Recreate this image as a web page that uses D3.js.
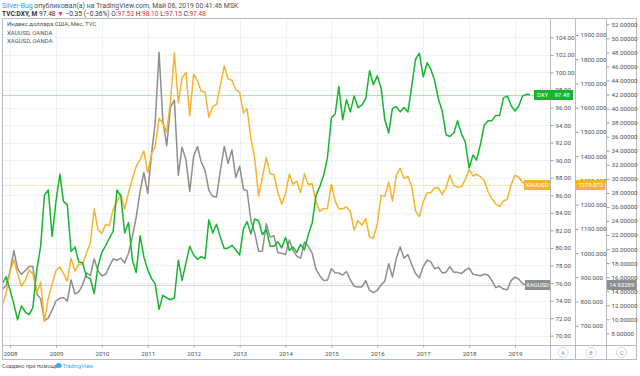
<!DOCTYPE html>
<html>
<head>
<meta charset="utf-8">
<script src="https://cdn.jsdelivr.net/npm/d3@7"></script>
<style>
  body { margin: 0; background: #fff; }
  svg { display: block; font-family: Roboto, "Liberation Sans", sans-serif; }
</style>
</head>
<body>
<svg id="chart" width="640" height="376"></svg>
<script>
// monthly closes, Nov 2007 .. May 2019
const dxy = [
  75.95, 76.70,
  75.20, 73.60, 71.80, 73.40, 72.70, 72.40, 73.20, 77.50, 80.20, 86.00, 86.60, 81.30,
  85.30, 88.40, 85.30, 84.90, 79.60, 80.10, 78.40, 78.30, 76.70, 76.50, 74.80, 77.90,
  79.50, 80.30, 81.10, 81.90, 86.60, 85.90, 81.70, 82.90, 78.60, 77.20, 81.40, 79.00,
  77.50, 76.50, 75.90, 73.00, 74.60, 74.30, 74.10, 74.30, 78.60, 76.30, 78.30, 80.20,
  79.20, 78.70, 79.00, 78.80, 83.20, 81.70, 82.70, 81.20, 79.90, 80.00, 80.30, 79.80,
  79.20, 82.20, 83.00, 81.60, 83.30, 83.10, 81.50, 82.10, 80.20, 80.20, 80.70, 80.00,
  81.20, 79.70, 80.10, 79.50, 80.40, 79.80, 81.50, 82.80, 86.00, 87.00, 88.30, 90.30,
  94.80, 95.30, 98.40, 94.60, 96.90, 95.50, 97.30, 96.00, 96.30, 97.00, 100.20, 98.60,
  99.60, 98.20, 94.60, 93.10, 95.90, 96.10, 95.50, 96.00, 95.50, 98.40, 101.50, 102.20,
  99.50, 101.10, 100.40, 99.10, 97.00, 95.60, 92.90, 92.70, 93.10, 94.50, 93.00, 92.10,
  89.10, 90.60, 90.00, 91.80, 94.00, 94.50, 94.50, 95.10, 95.10, 97.10, 97.30, 96.20,
  95.60, 96.20, 97.30, 97.50, 97.48
];
const gold = [
  783, 834,
  923, 972, 916, 864, 886, 930, 913, 833, 880, 718, 815, 870,
  928, 942, 916, 883, 978, 926, 954, 955, 1001, 1039, 1182, 1096,
  1081, 1118, 1113, 1180, 1213, 1244, 1181, 1248, 1307, 1357, 1385, 1421,
  1332, 1410, 1439, 1556, 1536, 1500, 1628, 1826, 1620, 1722, 1746, 1566,
  1738, 1710, 1669, 1664, 1561, 1604, 1614, 1692, 1772, 1719, 1713, 1675,
  1663, 1578, 1596, 1472, 1392, 1234, 1312, 1395, 1327, 1323, 1250, 1202,
  1244, 1326, 1284, 1296, 1250, 1327, 1282, 1287, 1210, 1172, 1183, 1184,
  1283, 1213, 1183, 1183, 1190, 1172, 1095, 1134, 1115, 1142, 1065, 1061,
  1118, 1238, 1234, 1293, 1215, 1322, 1350, 1309, 1316, 1276, 1173, 1151,
  1211, 1249, 1249, 1268, 1269, 1242, 1269, 1322, 1280, 1271, 1275, 1303,
  1345, 1318, 1325, 1315, 1299, 1253, 1224, 1202, 1192, 1215, 1222, 1282,
  1321, 1313, 1292, 1284, 1279.072
];
const silver = [
  14.30, 14.80,
  16.80, 19.80, 17.20, 16.40, 16.90, 17.50, 17.50, 13.60, 12.90, 9.80, 10.20, 11.30,
  12.60, 13.00, 13.10, 12.60, 15.60, 13.60, 13.90, 14.90, 16.60, 16.20, 18.60, 16.90,
  16.20, 16.40, 17.50, 18.60, 18.40, 18.70, 18.00, 19.40, 21.80, 24.50, 28.20, 30.90,
  27.90, 33.70, 37.90, 48.00, 38.40, 34.70, 40.20, 41.20, 30.50, 34.50, 32.70, 28.20,
  33.20, 34.60, 32.40, 31.20, 28.40, 27.50, 27.40, 31.20, 34.60, 32.20, 34.10, 30.20,
  31.80, 28.50, 28.30, 24.10, 22.30, 19.70, 19.70, 23.60, 21.70, 21.90, 19.50, 19.40,
  19.20, 21.30, 19.80, 19.00, 18.70, 21.00, 20.40, 19.40, 17.10, 16.20, 15.50, 15.60,
  17.20, 16.60, 16.60, 16.30, 16.80, 15.60, 14.70, 14.60, 14.60, 15.50, 14.10, 13.80,
  14.10, 14.90, 15.40, 17.90, 16.00, 18.70, 20.30, 18.70, 19.20, 17.80, 16.50, 15.90,
  17.50, 18.40, 18.20, 17.20, 17.40, 16.60, 16.70, 17.50, 16.70, 16.70, 16.50, 17.00,
  17.30, 16.40, 16.30, 16.20, 16.40, 16.30, 15.50, 14.50, 14.70, 14.30, 14.20, 15.50,
  16.00, 15.70, 15.10, 14.90, 14.93289
];
const months = d3.timeMonth.range(new Date(2007, 10, 1), new Date(2019, 5, 1));
const years = d3.range(2008, 2020);
const dxyTicks = d3.range(70, 105, 2);
const goldTicks = d3.range(700, 1901, 100);
const silverTicks = d3.range(8, 53, 2);
const legendLines = ["Индекс доллара США, Мес, TVC", "XAUUSD, OANDA", "XAGUSD, OANDA"];

const svg = d3.select("#chart");
const W = 640, H = 376;
const frameLeft = 2.5, frameTop = 18.5, plotBottom = 345.5, frameBottom = 359.5;
const axA = 550.5, axB = 575.5, axC = 606.5, frameRight = 636.5;

const green = "#14b62e", orange = "#f6b42a", grey = "#8e8e8e";
const textCol = "#4f4f4f", lineCol = "#b8bcc4", gridCol = "#edf1f6";

const x = d3.scaleTime()
  .domain([new Date(2008, 0, 1), new Date(2019, 0, 1)])
  .range([10, 515]);
const yA = d3.scaleLinear().domain([70, 104]).range([335.7, 37.3]);
const yB = d3.scaleLinear().domain([700, 1900]).range([325.7, 35]);
const yC = d3.scaleLinear().domain([8, 52]).range([333.3, 24.3]);

svg.append("rect").attr("width", W).attr("height", H).attr("fill", "#fff");

// clip for the plot
svg.append("defs").append("clipPath").attr("id", "plotClip")
  .append("rect")
  .attr("x", frameLeft + 0.5).attr("y", frameTop + 0.5)
  .attr("width", axA - frameLeft - 1).attr("height", plotBottom - frameTop - 1);

// grid
const grid = svg.append("g").attr("clip-path", "url(#plotClip)");
grid.selectAll("line.hg").data(dxyTicks).join("line")
  .attr("class", "hg")
  .attr("x1", frameLeft).attr("x2", axA)
  .attr("y1", d => Math.round(yA(d)) + 0.5).attr("y2", d => Math.round(yA(d)) + 0.5)
  .attr("stroke", gridCol);
grid.selectAll("line.vg").data(years).join("line")
  .attr("class", "vg")
  .attr("x1", d => Math.round(x(new Date(d, 0, 1))) + 0.5)
  .attr("x2", d => Math.round(x(new Date(d, 0, 1))) + 0.5)
  .attr("y1", frameTop).attr("y2", plotBottom)
  .attr("stroke", gridCol);

// last-price lines, series colour at low opacity
const series = [
  { values: dxy, y: yA, color: green },
  { values: gold, y: yB, color: orange },
  { values: silver, y: yC, color: grey }
];
series.forEach(s => {
  const yy = Math.round(s.y(s.values[s.values.length - 1])) + 0.5;
  grid.append("line")
    .attr("class", "last")
    .attr("x1", frameLeft).attr("x2", axA)
    .attr("y1", yy).attr("y2", yy)
    .attr("stroke", s.color)
    .attr("stroke-opacity", 0.35);
});

// series lines, silver under gold under dxy
[series[2], series[1], series[0]].forEach(s => {
  const line = d3.line()
    .x((d, i) => x(months[i]))
    .y(d => s.y(d));
  grid.append("path")
    .datum(s.values)
    .attr("fill", "none")
    .attr("stroke", s.color)
    .attr("stroke-width", 1.5)
    .attr("stroke-linejoin", "round")
    .attr("d", line);
});

// frame
const frame = svg.append("g").attr("stroke", lineCol).attr("fill", "none");
frame.append("rect").attr("x", frameLeft).attr("y", frameTop)
  .attr("width", frameRight - frameLeft).attr("height", frameBottom - frameTop);
[axA, axB, axC].forEach(v => {
  frame.append("line").attr("x1", v).attr("x2", v).attr("y1", frameTop).attr("y2", frameBottom);
});
frame.append("line").attr("x1", frameLeft).attr("x2", frameRight)
  .attr("y1", plotBottom).attr("y2", plotBottom);

// price axes
function priceAxis(scale, ticks, fmt, pos) {
  const g = svg.append("g")
    .attr("transform", `translate(${pos},0)`)
    .call(d3.axisRight(scale).tickValues(ticks).tickFormat(d3.format(fmt))
      .tickSize(3).tickPadding(2));
  g.select(".domain").remove();
  g.selectAll("line").attr("stroke", "#9a9ea6");
  g.selectAll("text").attr("fill", textCol)
    .style("font-size", "6.2px").style("font-family", "Roboto, sans-serif");
  return g;
}
priceAxis(yA, dxyTicks, ".2f", axA);
priceAxis(yB, goldTicks, ".3f", axB);
priceAxis(yC, silverTicks, ".5f", axC);

// time axis
const xa = svg.append("g")
  .attr("transform", `translate(0,${plotBottom})`)
  .call(d3.axisBottom(x).tickValues(years.map(d => new Date(d, 0, 1)))
    .tickFormat(d3.timeFormat("%Y")).tickSize(2).tickPadding(4));
xa.select(".domain").remove();
xa.selectAll("line").attr("stroke", "#9a9ea6");
xa.selectAll("text").attr("fill", textCol)
  .style("font-size", "6.2px").style("font-family", "Roboto, sans-serif");

// axis letters
[["A", (axA + axB) / 2], ["B", (axB + axC) / 2], ["C", (axC + frameRight) / 2]].forEach(([t, cx]) => {
  svg.append("circle").attr("cx", cx).attr("cy", 352.5).attr("r", 5)
    .attr("fill", "#fff").attr("stroke", "#d6d9de");
  svg.append("text").attr("x", cx).attr("y", 354.6).attr("text-anchor", "middle")
    .attr("fill", "#8a8e96").style("font-size", "5.5px").text(t);
});

// price tags
function tag(x0, w, yv, color, label) {
  const yy = Math.round(yv);
  svg.append("rect").attr("x", x0).attr("y", yy - 5).attr("width", w).attr("height", 10)
    .attr("fill", color);
  svg.append("text").attr("x", x0 + w / 2).attr("y", yy + 2.2).attr("text-anchor", "middle")
    .attr("fill", "#fff").style("font-size", "6px").text(label);
}
const lastD = dxy[dxy.length - 1], lastG = gold[gold.length - 1], lastS = silver[silver.length - 1];
tag(534, 17, yA(lastD), green, "DXY");
tag(551, 22, yA(lastD), green, d3.format(".2f")(lastD));
tag(524, 26, yB(lastG), orange, "XAUUSD");
tag(576, 29.5, yB(lastG), orange, d3.format(".3f")(lastG));
tag(525, 25, yC(lastS), grey, "XAGUSD");
tag(607, 29.5, yC(lastS), grey, d3.format(".5f")(lastS));

// legend
svg.selectAll("text.leg").data(legendLines).join("text")
  .attr("class", "leg")
  .attr("x", 7).attr("y", (d, i) => 26.3 + i * 8.3)
  .attr("fill", textCol).style("font-size", "6px")
  .text(d => d);

// header
const h1 = svg.append("text").attr("x", 2).attr("y", 7.5).style("font-size", "6.9px").attr("fill", textCol);
h1.append("tspan").attr("fill", "#2a9bf0").text("Silver-Bug");
h1.append("tspan").text(" опубликовал(а) на TradingView.com, Май 06, 2019 00:41:46 MSK");

const h2 = svg.append("text").attr("x", 2).attr("y", 16.3).style("font-size", "6.6px").attr("fill", "#333");
h2.append("tspan").attr("font-weight", "bold").text("TVC:DXY, M");
h2.append("tspan").text(" 97.48 ");
h2.append("tspan").attr("fill", "#e0303b").text("▼");
h2.append("tspan").text(" −0.35 (−0.36%) O:");
h2.append("tspan").attr("fill", "#e0303b").text("97.53");
h2.append("tspan").text(" H:");
h2.append("tspan").attr("fill", "#e0303b").text("98.10");
h2.append("tspan").text(" L:");
h2.append("tspan").attr("fill", "#e0303b").text("97.15");
h2.append("tspan").text(" C:");
h2.append("tspan").attr("fill", "#e0303b").text("97.48");

// footer
svg.append("text").attr("x", 2).attr("y", 367.5).style("font-size", "5.6px")
  .attr("fill", textCol).text("Создано при помощи");
const logo = svg.append("g").attr("transform", "translate(55,363)").attr("fill", "#3ba7f0");
logo.append("ellipse").attr("cx", 3.5).attr("cy", 3).attr("rx", 3.5).attr("ry", 1.8);
logo.append("circle").attr("cx", 3).attr("cy", 1.4).attr("r", 1.6);
logo.append("circle").attr("cx", 5).attr("cy", 1.9).attr("r", 1.3);
svg.append("text").attr("x", 62.5).attr("y", 367.5).style("font-size", "5.6px")
  .attr("fill", "#3ba7f0").text("TradingView");
</script>
</body>
</html>
